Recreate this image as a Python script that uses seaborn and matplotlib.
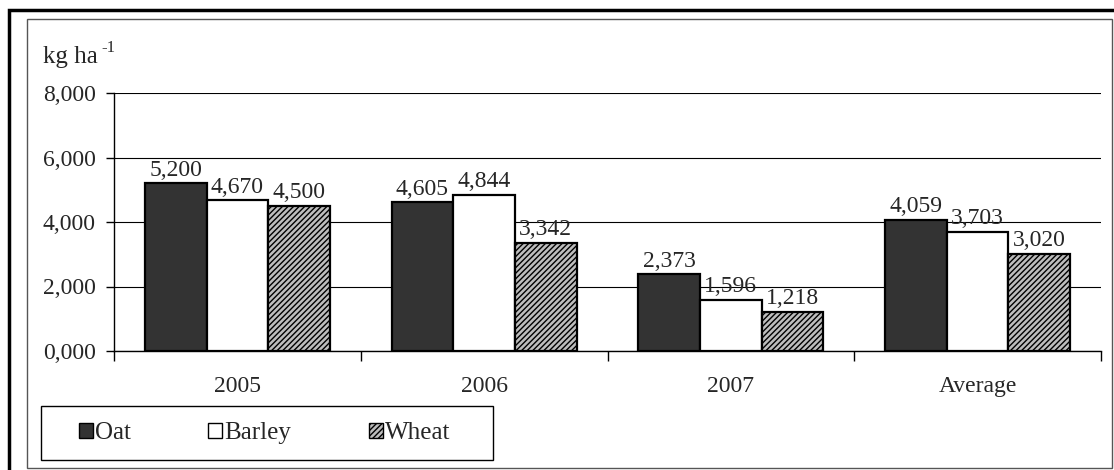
import matplotlib
matplotlib.use("Agg")
import matplotlib.pyplot as plt
from matplotlib.patches import Rectangle, Patch
import seaborn as sns
import pandas as pd

# ---- data ----
categories = ["2005", "2006", "2007", "Average"]
oat = [5200, 4605, 2373, 4059]
barley = [4670, 4844, 1596, 3703]
wheat = [4500, 3342, 1218, 3020]
crops = ["Oat", "Barley", "Wheat"]
ytick_values = [0, 2000, 4000, 6000, 8000]
ytick_labels = ["0,000", "2,000", "4,000", "6,000", "8,000"]
y_unit = "kg ha"
y_unit_sup = "-1"

rows = []
for crop, vals in zip(crops, [oat, barley, wheat]):
    for c, v in zip(categories, vals):
        rows.append({"Year": c, "Yield": v, "Crop": crop})
df = pd.DataFrame(rows)

sns.set_style("ticks")
plt.rcParams["font.family"] = ["Liberation Serif", "DejaVu Serif"]
plt.rcParams["hatch.color"] = "#1a1a1a"
plt.rcParams["hatch.linewidth"] = 1.0

W, H = 1114, 470
fig = plt.figure(figsize=(W / 100, H / 100), dpi=100)
ax = fig.add_axes([114 / W, 1 - 351 / H, (1101 - 114) / W, (351 - 93) / H])

WHEAT_FACE = "#bdbdbd"
colors = {"Oat": "#333333", "Barley": "#ffffff", "Wheat": WHEAT_FACE}
sns.barplot(data=df, x="Year", y="Yield", hue="Crop", order=categories,
            hue_order=crops, palette=colors, width=0.75, edgecolor="black",
            linewidth=1.6, saturation=1, legend=False, ax=ax, zorder=3)

for bar in ax.containers[2]:
    bar.set_hatch("//////")

for cont, vals in zip(ax.containers, [oat, barley, wheat]):
    ax.bar_label(cont, labels=[f"{v:,}" for v in vals], padding=2,
                 fontsize=17, zorder=5)

ax.set_ylim(0, 8000)
ax.set_xlim(-0.5, len(categories) - 0.5)
ax.set_yticks(ytick_values)
ax.set_yticklabels(ytick_labels, fontsize=17)
ax.yaxis.grid(True, color="black", linewidth=0.8, zorder=0)
ax.set_axisbelow(True)

# x: boundary ticks as major, labels at centers as minor
ax.set_xticks([i - 0.5 for i in range(len(categories) + 1)])
ax.set_xticklabels([])
ax.set_xticks(range(len(categories)), minor=True)
ax.set_xticklabels(categories, minor=True, fontsize=17)
ax.tick_params(axis="x", which="major", length=7, width=1, color="black", direction="out")
ax.tick_params(axis="x", which="minor", length=0, pad=18)
ax.tick_params(axis="y", length=6, width=1, color="black", pad=7)
ax.set_xlabel("")
ax.set_ylabel("")
for s in ["top", "right"]:
    ax.spines[s].set_visible(False)
for s in ["left", "bottom"]:
    ax.spines[s].set_color("black")
    ax.spines[s].set_linewidth(1)

# unit label
fig.text(43 / W, 1 - 63 / H, y_unit, fontsize=18, ha="left", va="baseline")
fig.text(101 / W, 1 - 52 / H, y_unit_sup, fontsize=12, ha="left", va="baseline")

# legend (entries placed, box drawn separately)
handles = [Patch(facecolor="#333333", edgecolor="black", linewidth=1),
           Patch(facecolor="white", edgecolor="black", linewidth=1),
           Patch(facecolor=WHEAT_FACE, edgecolor="black", linewidth=1, hatch="//////")]
leg = fig.legend(handles, crops, loc="center left",
                 bbox_to_anchor=(79 / W, 1 - 433 / H),
                 ncol=3, frameon=False, fontsize=18,
                 handlelength=0.56, handleheight=0.56,
                 handletextpad=0.08, borderpad=0, columnspacing=3.1,
                 borderaxespad=0)
fig.patches.append(Rectangle((41 / W, 1 - 460 / H), (493 - 41) / W, (460 - 406) / H,
                             transform=fig.transFigure, fill=False,
                             edgecolor="black", linewidth=1, zorder=1))

# frames
fig.patches.append(Rectangle((9 / W, -0.1), 1.2, 1 - 10 / H + 0.1, transform=fig.transFigure,
                             fill=False, edgecolor="black", linewidth=2.5, zorder=0))
fig.patches.append(Rectangle((27 / W, 1 - 468 / H), (1112 - 27) / W, (468 - 19) / H,
                             transform=fig.transFigure, fill=False,
                             edgecolor="#555555", linewidth=1, zorder=0))

fig.savefig("out.png", dpi=100)
